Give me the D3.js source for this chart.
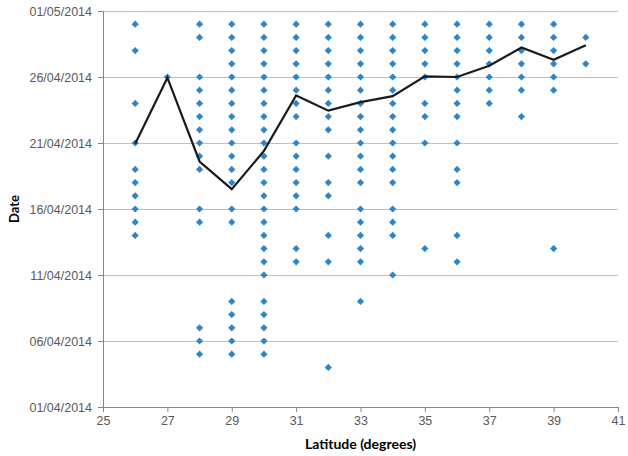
<!DOCTYPE html>
<html>
<head>
<meta charset="utf-8">
<script src="https://cdn.jsdelivr.net/npm/d3@7"></script>
<style>
  html, body { margin: 0; padding: 0; background: #fff; overflow: hidden; }
  svg { display: block; font-family: Lato, "Open Sans", sans-serif; }
</style>
</head>
<body>
<svg id="chart"></svg>
<script>
// latitude of each column of observations
const latitudes = [26, 27, 28, 29, 30, 31, 32, 33, 34, 35, 36, 37, 38, 39, 40];

// day of April 2014 for each observation, one list per latitude
const obsDays = [
  [30, 28, 24, 21, 19, 18, 17, 16, 15, 14],
  [26],
  [30, 29, 26, 25, 24, 23, 22, 21, 20, 19, 16, 15, 7, 6, 5],
  [30, 29, 28, 27, 26, 25, 24, 23, 22, 21, 20, 19, 18, 16, 15, 9, 8, 7, 6, 5],
  [30, 29, 28, 27, 26, 25, 24, 23, 22, 21, 20, 19, 18, 17, 16, 15, 14, 13, 12, 11, 9, 8, 7, 6, 5],
  [30, 29, 28, 27, 26, 25, 24, 23, 21, 20, 19, 18, 17, 16, 13, 12],
  [30, 29, 28, 27, 26, 25, 24, 23, 22, 20, 18, 17, 14, 12, 4],
  [30, 29, 28, 27, 26, 25, 24, 23, 22, 21, 20, 19, 18, 16, 15, 14, 13, 12, 9],
  [30, 29, 28, 27, 26, 25, 24, 23, 22, 21, 20, 19, 18, 16, 15, 14, 11],
  [30, 29, 28, 27, 26, 24, 23, 21, 13],
  [30, 29, 28, 27, 26, 25, 24, 23, 21, 19, 18, 14, 12],
  [30, 29, 28, 27, 26, 25, 24],
  [30, 29, 28, 27, 26, 25, 23],
  [30, 29, 28, 27, 26, 25, 13],
  [29, 27]
];

// mean date line (day of April, fractional)
const meanDays = [20.95, 25.95, 19.6, 17.5, 20.4, 24.6, 23.45, 24.1, 24.55, 26.05, 26.0, 26.85, 28.23, 27.3, 28.4];

const xTicks = [25, 27, 29, 31, 33, 35, 37, 39, 41];
const yTickDays = [1, 6, 11, 16, 21, 26, 31];

const width = 628, height = 456;
const margin = { top: 11, right: 10, bottom: 49, left: 103 };
const innerWidth = width - margin.left - margin.right;
const innerHeight = height - margin.top - margin.bottom;

const toDate = d => new Date(new Date(2014, 3, 1).getTime() + (d - 1) * 86400000);

const svg = d3.select('#chart')
  .attr('width', width)
  .attr('height', height);

const chart = svg.append('g')
  .attr('transform', `translate(${margin.left},${margin.top})`);

const x = d3.scaleLinear().domain([25, 41]).range([0, innerWidth]);
const y = d3.scaleTime()
  .domain([toDate(1), toDate(31)])
  .range([innerHeight, 0]);

const fmt = d3.timeFormat('%d/%m/%Y');
const yTickValues = yTickDays.map(toDate);

// gridlines
chart.append('g')
  .attr('class', 'grid')
  .call(d3.axisLeft(y).tickValues(yTickValues.slice(1)).tickSize(-innerWidth).tickFormat(''))
  .call(g => g.select('.domain').remove())
  .selectAll('line')
  .attr('stroke', '#bfbfbf')
  .attr('stroke-width', 1);

// axes
const xAxis = chart.append('g')
  .attr('transform', `translate(0,${innerHeight})`)
  .call(d3.axisBottom(x).tickValues(xTicks).tickSize(5).tickPadding(4).tickFormat(d3.format('d')));

const yAxis = chart.append('g')
  .call(d3.axisLeft(y).tickValues(yTickValues).tickSize(5).tickPadding(6).tickFormat(fmt));

[xAxis, yAxis].forEach(g => {
  g.select('.domain').attr('stroke', '#868686');
  g.selectAll('.tick line').attr('stroke', '#868686');
  g.selectAll('.tick text')
    .attr('fill', '#595959')
    .style('font-size', '12.5px');
});

// axis titles
chart.append('text')
  .attr('x', innerWidth / 2)
  .attr('y', innerHeight + 42)
  .attr('text-anchor', 'middle')
  .attr('fill', '#000')
  .style('font-size', '14px')
  .style('font-weight', 'bold')
  .text('Latitude (degrees)');

chart.append('text')
  .attr('transform', 'rotate(-90)')
  .attr('x', -innerHeight / 2)
  .attr('y', -84)
  .attr('text-anchor', 'middle')
  .attr('fill', '#000')
  .style('font-size', '13px')
  .style('font-weight', 'bold')
  .text('Date');

// observations
const points = [];
latitudes.forEach((lat, i) => {
  obsDays[i].forEach(d => points.push({ lat, day: d }));
});

// square turned 45 degrees, like the spreadsheet diamond marker
const diamond = d3.symbol().type(d3.symbolSquare).size(26);

chart.selectAll('path.obs')
  .data(points)
  .enter()
  .append('path')
  .attr('class', 'obs')
  .attr('d', diamond)
  .attr('transform', d => `translate(${x(d.lat)},${y(toDate(d.day))}) rotate(45)`)
  .attr('fill', '#2e86c8');

// mean line
const line = d3.line()
  .x((d, i) => x(latitudes[i]))
  .y(d => y(toDate(d)));

chart.append('path')
  .datum(meanDays)
  .attr('d', line)
  .attr('fill', 'none')
  .attr('stroke', '#1a1a1a')
  .attr('stroke-width', 2.2);
</script>
</body>
</html>
